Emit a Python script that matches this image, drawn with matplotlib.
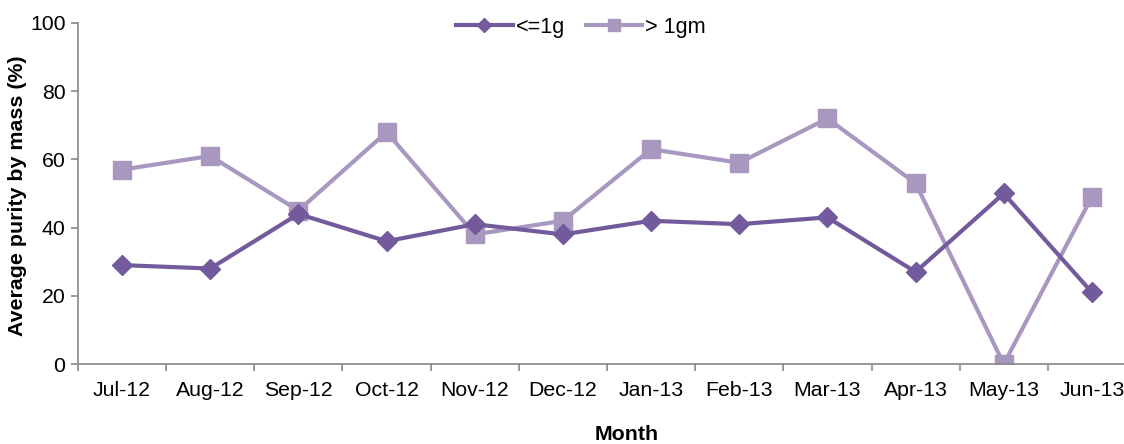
import matplotlib
matplotlib.use("Agg")
import matplotlib.pyplot as plt
import numpy as np

months = ["Jul-12", "Aug-12", "Sep-12", "Oct-12", "Nov-12", "Dec-12",
          "Jan-13", "Feb-13", "Mar-13", "Apr-13", "May-13", "Jun-13"]
small = [29, 28, 44, 36, 41, 38, 42, 41, 43, 27, 50, 21]
large = [57, 61, 45, 68, 38, 42, 63, 59, 72, 53, 0, 49]

plt.rcParams['font.family'] = ['Liberation Sans', 'DejaVu Sans']

fig = plt.figure(figsize=(11.24, 4.44), dpi=100)
ax = fig.add_axes([78/1124, 80/444, 1058/1124, 341/444])

x = np.arange(len(months))
dark = "#735A9C"
light = "#A898BF"
ax.plot(x, small, color=dark, lw=3, marker="D", ms=10, label="<=1g", zorder=3)
ax.plot(x, large, color=light, lw=3, marker="s", ms=13, label="> 1gm", zorder=2)

ax.set_xlim(-0.5, len(months) - 0.5)
ax.set_ylim(0, 100)
ax.set_yticks(range(0, 101, 20))
ax.set_xticks(x)
ax.set_xticklabels(months)
ax.set_xticks(np.arange(-0.5, len(months), 1), minor=True)
ax.tick_params(axis='x', which='major', length=0, pad=12, labelsize=15.3)
ax.tick_params(axis='x', which='minor', length=5, color="#888888", width=1.2)
ax.tick_params(axis='y', length=5, color="#888888", width=1.2, labelsize=15.3, pad=4)

for s in ["top", "right"]:
    ax.spines[s].set_visible(False)
for s in ["left", "bottom"]:
    ax.spines[s].set_color("#888888")
    ax.spines[s].set_linewidth(1.2)

ax.set_xlabel("Month", fontsize=15.4, fontweight="bold")
ax.xaxis.set_label_coords((627 - 78) / 1058, -(434 - 364) / 341, transform=ax.transAxes)
ax.xaxis.label.set_va("center")
ax.set_ylabel("Average purity by mass (%)", fontsize=15.4, fontweight="bold")
ax.yaxis.set_label_coords(-(78 - 18) / 1058, (364 - 196) / 341, transform=ax.transAxes)
ax.yaxis.label.set_va("center")

ax.legend(loc="center", bbox_to_anchor=((581 - 78) / 1058, (364 - 27) / 341), ncol=2, frameon=False,
          fontsize=15.6, handlelength=2.6, handletextpad=0.15, columnspacing=0.95,
          markerscale=0.7, borderpad=0)

fig.savefig("out.png", dpi=100)
